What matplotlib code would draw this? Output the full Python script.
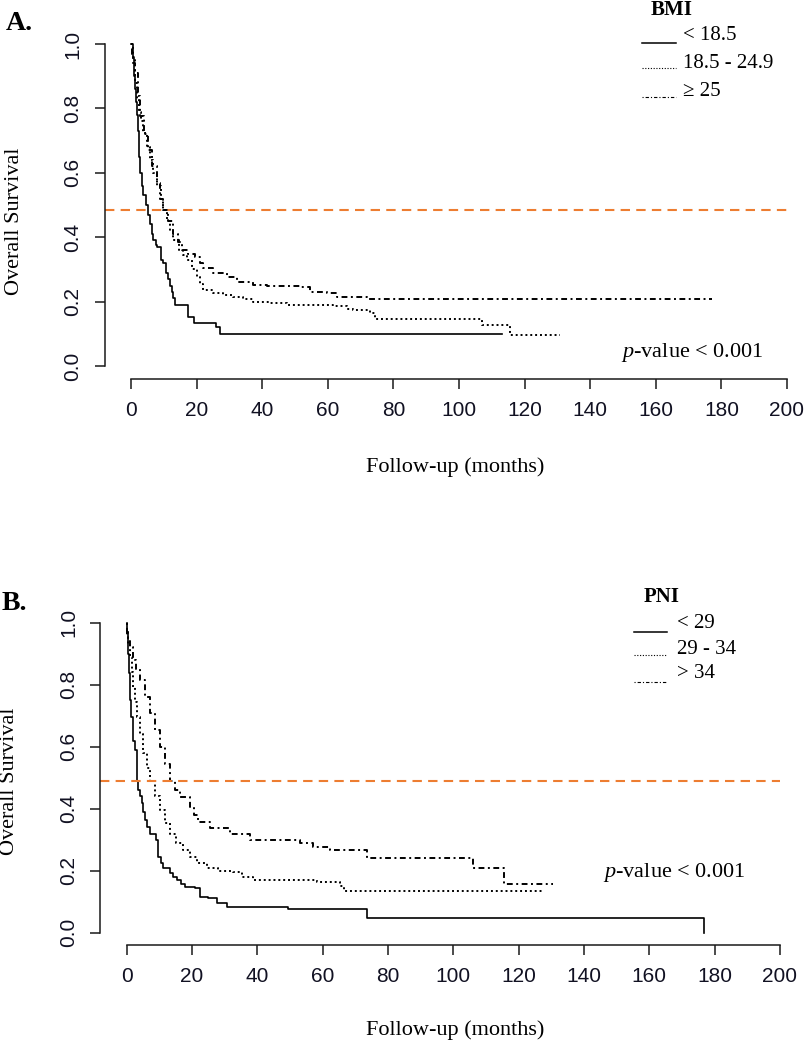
import matplotlib
matplotlib.use('Agg')
import matplotlib.pyplot as plt
from matplotlib.lines import Line2D

W, H = 806, 1050

plt.rcParams['mathtext.fontset'] = 'custom'
plt.rcParams['mathtext.rm'] = 'Liberation Serif'
plt.rcParams['mathtext.it'] = 'Liberation Serif:italic'

ORANGE = '#ED7D31'
MEDIAN_A = 0.485
MEDIAN_B = 0.489

xticks = [0, 20, 40, 60, 80, 100, 120, 140, 160, 180, 200]
yticks = [0.0, 0.2, 0.4, 0.6, 0.8, 1.0]
ytick_labels = ['0.0', '0.2', '0.4', '0.6', '0.8', '1.0']

# Panel A: BMI groups (time in months, survival)
bmi_labels = ['< 18.5', '18.5 - 24.9', '\u2265 25']
bmi1_t = [0, 0.5, 0.8, 1.0, 1.2, 1.5, 1.7, 2.0, 2.3, 2.5, 2.8, 3.3, 3.8, 4.5, 5.3, 5.8, 6.3, 6.8,
          7.5, 8.0, 9.2, 9.8, 10.6, 11.2, 11.8, 12.4, 12.9, 13.5, 17.3, 19.3, 25.8, 27.2, 113]
bmi1_s = [1.0, 0.96, 0.93, 0.90, 0.86, 0.82, 0.78, 0.73, 0.69, 0.65, 0.60, 0.56, 0.53, 0.50, 0.47,
          0.44, 0.41, 0.39, 0.375, 0.37, 0.33, 0.32, 0.29, 0.27, 0.25, 0.23, 0.21, 0.19, 0.153,
          0.135, 0.12, 0.10, 0.10]
bmi2_t = [0, 0.7, 1.2, 1.7, 2.5, 3.0, 3.8, 4.8, 5.8, 6.8, 8.0, 9.0, 9.8, 11.0, 12.0, 12.9, 14.5,
          16.0, 17.0, 18.5, 20.0, 21.0, 22.0, 25.1, 28.0, 31.2, 34.0, 37.3, 42.0, 47.5, 55.0, 61.7,
          65.8, 67.8, 72.9, 74.4, 106.9, 115.5, 130.8]
bmi2_s = [1.0, 0.95, 0.88, 0.826, 0.79, 0.76, 0.723, 0.68, 0.64, 0.598, 0.56, 0.52, 0.484, 0.45,
          0.42, 0.391, 0.36, 0.345, 0.329, 0.30, 0.277, 0.255, 0.236, 0.226, 0.22, 0.215, 0.208,
          0.20, 0.195, 0.19, 0.188, 0.185, 0.178, 0.175, 0.164, 0.145, 0.127, 0.096, 0.096]
bmi3_t = [0, 0.2, 0.6, 1.2, 2.0, 2.7, 4.0, 5.3, 6.5, 7.8, 8.8, 9.8, 11.3, 12.9, 14.2, 15.5, 17.5,
          19.5, 21.0, 22.0, 25.1, 29.2, 32.2, 37.3, 41.4, 51.5, 54.6, 59.7, 62.7, 71.9, 177]
bmi3_s = [1.0, 0.97, 0.94, 0.91, 0.84, 0.775, 0.72, 0.67, 0.62, 0.567, 0.52, 0.483, 0.45, 0.41,
          0.385, 0.36, 0.348, 0.34, 0.32, 0.303, 0.288, 0.277, 0.262, 0.252, 0.248, 0.244, 0.231,
          0.226, 0.215, 0.207, 0.207]

# Panel B: PNI groups
pni_labels = ['< 29', '29 - 34', '> 34']
pni1_t = [0, 0.2, 0.4, 0.6, 0.8, 1.1, 1.5, 2.1, 2.6, 3.1, 3.6, 4.1, 4.6, 5.2, 5.7, 6.4, 7.2, 9.0,
          9.7, 10.5, 11.3, 13.3, 14.3, 15.4, 16.6, 17.9, 21.0, 22.5, 25.0, 27.6, 30.7, 49.5, 73.5,
          176.7]
pni1_s = [1.0, 0.97, 0.944, 0.90, 0.837, 0.75, 0.697, 0.62, 0.589, 0.489, 0.46, 0.44, 0.417, 0.39,
          0.364, 0.34, 0.32, 0.299, 0.245, 0.225, 0.208, 0.192, 0.18, 0.17, 0.158, 0.148, 0.143,
          0.116, 0.111, 0.095, 0.084, 0.077, 0.048, 0.0]
pni2_t = [0, 0.1, 0.6, 1.1, 1.6, 2.1, 2.6, 3.1, 4.1, 5.1, 6.2, 7.2, 8.7, 10.3, 11.8, 13.3, 15.3,
          17.4, 19.5, 21.5, 24.5, 28.0, 32.7, 35.5, 38.8, 58.2, 65.3, 66.5, 127.6]
pni2_s = [1.0, 0.97, 0.93, 0.89, 0.84, 0.794, 0.745, 0.697, 0.64, 0.579, 0.53, 0.489, 0.44, 0.396,
          0.355, 0.32, 0.29, 0.267, 0.245, 0.224, 0.208, 0.20, 0.197, 0.18, 0.17, 0.165, 0.15,
          0.133, 0.133]
pni3_t = [0, 0.1, 0.6, 1.1, 2.1, 3.0, 4.1, 5.6, 7.2, 8.8, 10.3, 11.8, 13.3, 14.8, 16.4, 19.4, 20.7,
          22.0, 25.6, 31.7, 37.8, 53.1, 57.2, 62.3, 70.4, 73.5, 106.0, 115.5, 130.6]
pni3_s = [1.0, 0.96, 0.94, 0.923, 0.88, 0.85, 0.815, 0.76, 0.708, 0.655, 0.60, 0.545, 0.489, 0.46,
          0.439, 0.406, 0.38, 0.358, 0.337, 0.32, 0.299, 0.288, 0.277, 0.267, 0.267, 0.24, 0.21,
          0.157, 0.157]

styles = [dict(ls='-'), dict(ls=(0, (1, 1.5))), dict(ls=(0, (1, 1.8, 3, 1.8)))]
curve_lw = [1.2, 1.4, 1.4]


def fx(x):
    return x / W


def fy(y):
    return 1 - y / H


def make_axes(fig, x0, pxm, y0, pxu):
    # place axes so data maps to the measured pixel positions (R style 4% padding)
    left = x0 - 8 * pxm
    right = x0 + 208 * pxm
    bottom = y0 + 0.04 * pxu
    top = y0 - 1.04 * pxu
    ax = fig.add_axes([fx(left), fy(bottom), (right - left) / W, (bottom - top) / H])
    ax.set_xlim(-8, 208)
    ax.set_ylim(-0.04, 1.04)
    ax.patch.set_alpha(0)
    for s in ['top', 'right']:
        ax.spines[s].set_visible(False)
    for s in ['left', 'bottom']:
        ax.spines[s].set_linewidth(1.1)
        ax.spines[s].set_color('#1a1a1a')
    ax.spines['left'].set_bounds(0, 1)
    ax.spines['bottom'].set_bounds(0, 200)
    ax.set_xticks(xticks)
    ax.set_xticklabels([str(t) for t in xticks], family='Liberation Sans', fontsize=15)
    ax.set_yticks(yticks)
    ax.set_yticklabels(ytick_labels, family='Liberation Sans', fontsize=15,
                       rotation=90, va='center')
    ax.tick_params(direction='out', length=7, width=1.1, color='#1a1a1a', pad=9,
                   labelcolor='#111122')
    return ax


fig = plt.figure(figsize=(W / 100, H / 100), dpi=100)

# ---- panel A
axA = make_axes(fig, 131, 3.28, 366, 322)
for t, s, st, lw in zip([bmi1_t, bmi2_t, bmi3_t], [bmi1_s, bmi2_s, bmi3_s], styles, curve_lw):
    axA.step(t, s, where='post', color='black', lw=lw, **st)
axA.hlines(MEDIAN_A, -8, 200, color=ORANGE, lw=1.5, linestyles=(0, (4.5, 3)))

# ---- panel B
axB = make_axes(fig, 126.5, 3.2675, 932.7, 310)
for t, s, st, lw in zip([pni1_t, pni2_t, pni3_t], [pni1_s, pni2_s, pni3_s], styles, curve_lw):
    axB.step(t, s, where='post', color='black', lw=lw, **st)
axB.hlines(MEDIAN_B, -8, 200, color=ORANGE, lw=1.5, linestyles=(0, (4.5, 3)))

serif = 'Liberation Serif'

# panel letters and axis titles
fig.text(fx(19), fy(23), 'A.', family=serif, weight='bold', fontsize=20, ha='center', va='center')
fig.text(fx(14), fy(604), 'B.', family=serif, weight='bold', fontsize=20, ha='center', va='center')
for yl, xl in [(221, 15), (781, 10)]:
    fig.text(fx(xl), fy(yl), 'Overall Survival', family=serif, fontsize=16, rotation=90,
             ha='center', va='center')
for yl in [467, 1030]:
    fig.text(fx(455), fy(yl), 'Follow-up (months)', family=serif, fontsize=16,
             ha='center', va='center')

# p-values
fig.text(fx(621), fy(352), r'$\mathit{p}$-value < 0.001', family=serif, fontsize=16,
         ha='left', va='center')
fig.text(fx(603), fy(873), r'$\mathit{p}$-value < 0.001', family=serif, fontsize=16,
         ha='left', va='center')


def legend(title, title_xy, labels, text_x, text_ys, line_x, line_ys):
    fig.text(fx(title_xy[0]), fy(title_xy[1]), title, family=serif, weight='bold',
             fontsize=15, ha='center', va='center')
    for lab, ty, ly, st, lw in zip(labels, text_ys, line_ys, styles, [1.1, 0.8, 0.8]):
        fig.text(fx(text_x), fy(ty), lab, family=serif, fontsize=15, ha='left', va='center')
        fig.add_artist(Line2D([fx(line_x[0]), fx(line_x[1])], [fy(ly), fy(ly)],
                              transform=fig.transFigure, color='black', lw=lw, **st))


legend('BMI', (672, 10), bmi_labels, 683, [36, 63, 91], (642, 676), [43, 68, 97])
legend('PNI', (662, 597), pni_labels, 677, [623, 649, 674], (634, 667), [632, 655, 682])

fig.savefig('out.png', dpi=100)
